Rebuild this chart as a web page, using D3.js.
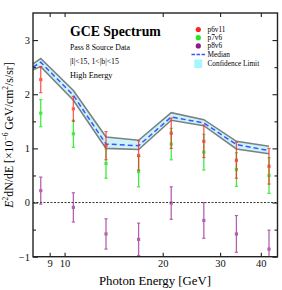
<!DOCTYPE html>
<meta charset="UTF-8">
<style>
  body { margin: 0; background: #fff; }
  text { font-family: "Liberation Serif", "DejaVu Serif", serif; }
</style>
<script src="https://d3js.org/d3.v7.min.js"></script>
<svg id="chart" width="282" height="290"></svg>
<script>
// bin energies (GeV)
var energy = [8.45, 10.64, 13.40, 16.87, 21.24, 26.74, 33.66, 42.38];

// three data releases, values and 1-sigma errors
var p6v11 = [2.27, 1.73, 1.05, 0.87, 1.28, 1.13, 0.78, 0.67];
var p6v11Err = [0.24, 0.23, 0.26, 0.27, 0.28, 0.30, 0.33, 0.33];
var p7v6 = [1.65, 1.27, 0.72, 0.57, 1.08, 0.93, 0.61, 0.50];
var p7v6Err = [0.25, 0.25, 0.27, 0.28, 0.29, 0.33, 0.31, 0.33];
var p8v6 = [0.22, -0.09, -0.58, -0.68, -0.01, -0.33, -0.58, -0.86];
var p8v6Err = [0.25, 0.27, 0.28, 0.30, 0.30, 0.33, 0.34, 0.35];

// median + confidence band
var bandEnergy = [8.0, 8.45, 10.64, 13.40, 16.87, 21.24, 26.74, 33.66, 42.38];
var bandMedian = [2.50, 2.59, 1.98, 1.08, 1.05, 1.58, 1.47, 1.07, 0.96];
var bandUpper = [2.56, 2.66, 2.07, 1.21, 1.15, 1.66, 1.53, 1.13, 1.04];
var bandLower = [2.45, 2.51, 1.89, 1.00, 0.98, 1.52, 1.42, 0.99, 0.90];

var xTicks = [9, 10, 20, 30, 40];
var yTicks = [-1, 0, 1, 2, 3];
var yMinor = [-0.5, 0.5, 1.5, 2.5];

var svg = d3.select("#chart");
var m = {left: 33, right: 277.5, top: 13, bottom: 256.7};

var x = d3.scaleLog().domain([8, 45]).range([m.left, m.right]);
var y = d3.scaleLinear().domain([-1, 3.5]).range([m.bottom, m.top]);

svg.append("clipPath").attr("id", "clip")
  .append("rect").attr("x", m.left).attr("y", m.top)
  .attr("width", m.right - m.left).attr("height", m.bottom - m.top);

var plot = svg.append("g").attr("clip-path", "url(#clip)");

// band
var band = bandEnergy.map(function(e, i) {
  return {e: e, m: bandMedian[i], hi: bandUpper[i], lo: bandLower[i]};
});
plot.append("path").datum(band)
  .attr("fill", "#cdf3f9")
  .attr("d", d3.area().x(function(d) { return x(d.e); })
    .y0(function(d) { return y(d.lo); }).y1(function(d) { return y(d.hi); }));
["hi", "lo"].forEach(function(k) {
  plot.append("path").datum(band)
    .attr("fill", "none").attr("stroke", "#778383").attr("stroke-width", 1.6)
    .attr("d", d3.line().x(function(d) { return x(d.e); }).y(function(d) { return y(d[k]); }));
});
plot.append("path").datum(band)
  .attr("fill", "none").attr("stroke", "#3a55ff").attr("stroke-width", 1.5)
  .attr("stroke-dasharray", "5,3")
  .attr("d", d3.line().x(function(d) { return x(d.e); }).y(function(d) { return y(d.m); }));

// zero line
plot.append("line")
  .attr("x1", m.left).attr("x2", m.right).attr("y1", y(0)).attr("y2", y(0))
  .attr("stroke", "#333").attr("stroke-width", 1).attr("stroke-dasharray", "2,1.5");

// error bars
function drawSeries(vals, errs, color, op) {
  var g = plot.append("g").attr("opacity", op);
  vals.forEach(function(v, i) {
    var cx = x(energy[i]);
    g.append("line").attr("x1", cx).attr("x2", cx)
      .attr("y1", y(v - errs[i])).attr("y2", y(v + errs[i]))
      .attr("stroke", color).attr("stroke-width", 1.3);
    [v - errs[i], v + errs[i]].forEach(function(c) {
      g.append("line").attr("x1", cx - 1.6).attr("x2", cx + 1.6)
        .attr("y1", y(c)).attr("y2", y(c))
        .attr("stroke", color).attr("stroke-width", 1.2);
    });
    g.append("rect").attr("x", cx - 1.6).attr("y", y(v) - 1.6)
      .attr("width", 3.2).attr("height", 3.2).attr("fill", color);
  });
}
drawSeries(p7v6, p7v6Err, "#22e822", 0.85);
drawSeries(p6v11, p6v11Err, "#ff2222", 0.75);
drawSeries(p8v6, p8v6Err, "#93208f", 0.7);

// axes, ticks pointing inward
var ax = svg.append("g");
ax.append("g").attr("transform", "translate(0," + m.bottom + ")")
  .call(d3.axisBottom(x).tickValues(xTicks).tickFormat(d3.format("d")).tickSize(-4).tickPadding(3));
ax.append("g").attr("transform", "translate(0," + m.top + ")")
  .call(d3.axisTop(x).tickValues(xTicks).tickFormat("").tickSize(-4));
ax.append("g").attr("transform", "translate(" + m.left + ",0)")
  .call(d3.axisLeft(y).tickValues(yTicks).tickFormat(function(d) { return d < 0 ? "\u2212" + (-d) : d; })
    .tickSize(-5).tickPadding(3));
ax.append("g").attr("transform", "translate(" + m.left + ",0)")
  .call(d3.axisLeft(y).tickValues(yMinor).tickFormat("").tickSize(-3));
ax.append("g").attr("transform", "translate(" + m.right + ",0)")
  .call(d3.axisRight(y).tickValues(yTicks).tickFormat("").tickSize(-5));
ax.append("g").attr("transform", "translate(" + m.right + ",0)")
  .call(d3.axisRight(y).tickValues(yMinor).tickFormat("").tickSize(-3));
ax.selectAll(".domain").remove();
ax.selectAll(".tick line").attr("stroke", "#222").attr("stroke-width", 1.1);
ax.selectAll(".tick text").attr("font-size", 10.5).attr("fill", "#111")
  .attr("font-family", "Liberation Serif, serif");

svg.append("rect").attr("x", m.left).attr("y", m.top)
  .attr("width", m.right - m.left).attr("height", m.bottom - m.top)
  .attr("fill", "none").attr("stroke", "#222").attr("stroke-width", 1.4);

// axis titles
svg.append("text").attr("x", 155).attr("y", 284.5).attr("text-anchor", "middle")
  .attr("font-size", 12.8).text("Photon Energy [GeV]");
var yt = svg.append("text").attr("text-anchor", "middle")
  .attr("transform", "translate(12.5,135) rotate(-90)").attr("font-size", 11.8);
yt.append("tspan").attr("font-style", "italic").text("E");
yt.append("tspan").attr("font-size", 7.5).attr("dy", -4.5).text("2");
yt.append("tspan").attr("dy", 4.5).text("dN/dE [\u00d710");
yt.append("tspan").attr("font-size", 7.5).attr("dy", -4.5).text("\u22126");
yt.append("tspan").attr("dy", 4.5).text(" GeV/cm");
yt.append("tspan").attr("font-size", 7.5).attr("dy", -4.5).text("2");
yt.append("tspan").attr("dy", 4.5).text("/s/sr]");

// title block
svg.append("text").attr("x", 70).attr("y", 35.5).attr("font-size", 13.8)
  .attr("font-weight", "bold").text("GCE Spectrum");
svg.append("text").attr("x", 70).attr("y", 49.5).attr("font-size", 7.8).text("Pass 8 Source Data");
svg.append("text").attr("x", 70).attr("y", 63.5).attr("font-size", 7.8).text("|l|<15, 1<|b|<15");
svg.append("text").attr("x", 70).attr("y", 78).attr("font-size", 8.3).text("High Energy");

// legend
var legendNames = ["p6v11", "p7v6", "p8v6"];
var legendColors = ["#ff2222", "#22e822", "#8e1a8e"];
var lg = svg.append("g");
legendNames.forEach(function(n, i) {
  var ly = 29.5 + i * 8.2;
  lg.append("circle").attr("cx", 198.3).attr("cy", ly).attr("r", 2.6).attr("fill", legendColors[i]);
  lg.append("text").attr("x", 207.5).attr("y", ly + 2.4).attr("font-size", 7.3).text(n);
});
lg.append("line").attr("x1", 191.5).attr("x2", 206).attr("y1", 54.5).attr("y2", 54.5)
  .attr("stroke", "#3a55ff").attr("stroke-width", 1.5).attr("stroke-dasharray", "3.5,1.5");
lg.append("text").attr("x", 207.5).attr("y", 56.9).attr("font-size", 7.3).text("Median");
lg.append("rect").attr("x", 194.3).attr("y", 59.5).attr("width", 7.8).attr("height", 8.5).attr("fill", "#a6f6ff");
lg.append("text").attr("x", 207.5).attr("y", 65.6).attr("font-size", 7.3).text("Confidence Limit");
</script>
